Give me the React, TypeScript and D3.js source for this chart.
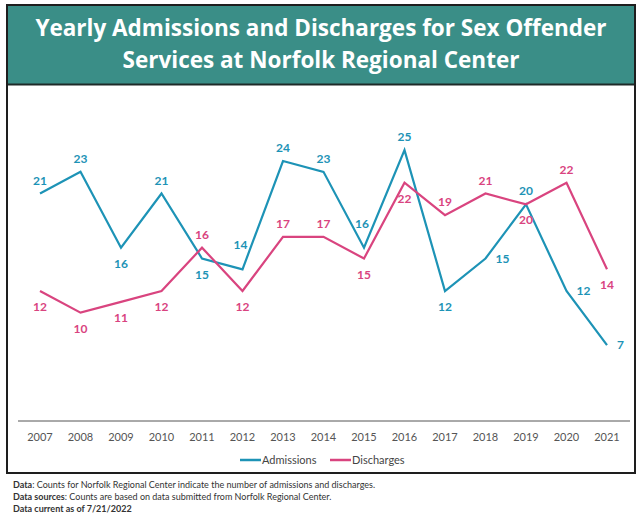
import React from 'react';
import * as d3 from 'd3';

const years = [2007, 2008, 2009, 2010, 2011, 2012, 2013, 2014, 2015, 2016, 2017, 2018, 2019, 2020, 2021];
const admissions = [21, 23, 16, 21, 15, 14, 24, 23, 16, 25, 12, 15, 20, 12, 7];
const discharges = [12, 10, 11, 12, 16, 12, 17, 17, 15, 22, 19, 21, 20, 22, 14];

// where each data label sits relative to its point: a = above, h = high above, b = below, r = right
const admissionLabelSide = ['a', 'a', 'b', 'a', 'b', 'h', 'a', 'a', 'h', 'a', 'b', 'r', 'a', 'r', 'r'];
const dischargeLabelSide = ['b', 'b', 'b', 'b', 'a', 'b', 'a', 'a', 'b', 'b', 'a', 'a', 'b', 'a', 'b'];

const titleLines = ['Yearly Admissions and Discharges for Sex Offender', 'Services at Norfolk Regional Center'];
const footnotes = [
    ['Data', ': Counts for Norfolk Regional Center indicate the number of admissions and discharges.'],
    ['Data sources', ': Counts are based on data submitted from Norfolk Regional Center.'],
    ['Data current as of 7/21/2022', ''],
];

const BLUE = '#1d93b6';
const PINK = '#d9447f';
const TEAL = '#3a8e87';
const FONT = 'Lato, "Open Sans", sans-serif';

function App() {
    const width = 637;
    const height = 517;

    const x = d3.scalePoint<number>()
        .domain(years)
        .range([40, 607]);

    const y = d3.scaleLinear()
        .domain([0, 30])
        .range([421, 96]);

    const line = d3.line<number>()
        .x((d, i) => x(years[i]) as number)
        .y(d => y(d));

    const series = [
        { name: 'Admissions', values: admissions, color: BLUE, sides: admissionLabelSide },
        { name: 'Discharges', values: discharges, color: PINK, sides: dischargeLabelSide },
    ];

    const labelPos = (side: string, px: number, py: number) => {
        if (side === 'a') return { x: px, y: py - 9, anchor: 'middle' };
        if (side === 'h') return { x: px - 2, y: py - 20, anchor: 'middle' };
        if (side === 'b') return { x: px, y: py + 20, anchor: 'middle' };
        return { x: px + 10, y: py + 4, anchor: 'start' };
    };

    return (
        <svg width={width} height={height} style={{ position: 'absolute', left: 0, top: 0, background: '#fff' }}>
            {/* frame */}
            <rect x={7} y={5} width={628} height={468} fill="#fff" stroke="#1e1e1e" strokeWidth={2} />
            <rect x={8} y={6} width={626} height={78} fill={TEAL} />
            <line x1={8} x2={634} y1={84.5} y2={84.5} stroke="#1e2a28" strokeWidth={2} />
            {titleLines.map((t, i) => (
                <text key={i} x={321} y={36 + i * 32} textAnchor="middle" fill="#fff"
                    fontFamily='"Open Sans", sans-serif' fontWeight={700} fontSize={22.5}>{t}</text>
            ))}

            {/* axis */}
            <line x1={18} x2={630} y1={y(0)} y2={y(0)} stroke="#555" strokeWidth={1} />
            {years.map(yr => (
                <text key={yr} x={x(yr)} y={441} textAnchor="middle" fill="#555"
                    fontFamily={FONT} fontSize={11}>{yr}</text>
            ))}

            {series.map(s => (
                <g key={s.name}>
                    <path d={line(s.values) || ''} fill="none" stroke={s.color} strokeWidth={2.2} strokeLinejoin="miter" />
                    {s.values.map((v, i) => {
                        const p = labelPos(s.sides[i], x(years[i]) as number, y(v));
                        return (
                            <text key={i} x={p.x} y={p.y} textAnchor={p.anchor} fill={s.color}
                                fontFamily={FONT} fontWeight={700} fontSize={12}>{v}</text>
                        );
                    })}
                </g>
            ))}

            {/* legend */}
            {series.map((s, i) => {
                const lx = 240 + i * 90;
                return (
                    <g key={s.name}>
                        <line x1={lx} x2={lx + 21} y1={460} y2={460} stroke={s.color} strokeWidth={2.5} />
                        <text x={lx + 22} y={464} fill="#444" fontFamily={FONT} fontSize={11}>{s.name}</text>
                    </g>
                );
            })}

            {/* footnotes */}
            {footnotes.map((f, i) => (
                <text key={i} x={13} y={488 + i * 12} fill="#333" fontFamily={FONT} fontSize={9}>
                    <tspan fontWeight={700}>{f[0]}</tspan>
                    <tspan>{f[1]}</tspan>
                </text>
            ))}
        </svg>
    );
}

export default App;
